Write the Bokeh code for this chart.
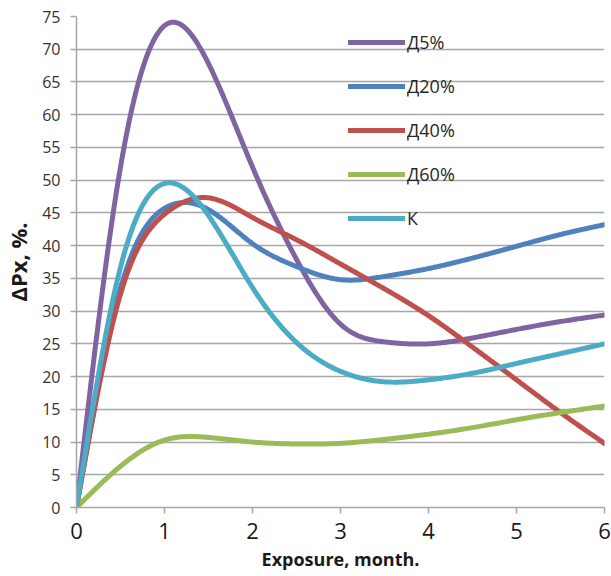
import numpy as np
from bokeh.plotting import figure
from bokeh.models import Legend, LegendItem, FixedTicker, Range1d
from bokeh.embed import file_html
from bokeh.resources import INLINE

# ---- data (every half month) ----
months = [0, 0.5, 1, 1.5, 2, 2.5, 3, 3.5, 4, 4.5, 5, 5.5, 6]
d5 = [0, 52.0, 73.6, 67.8, 52.0, 37.9, 28.0, 25.3, 25.0, 25.9, 27.2, 28.4, 29.4]
d20 = [0, 33.5, 45.7, 45.5, 40.3, 36.8, 34.8, 35.3, 36.5, 38.1, 39.9, 41.7, 43.2]
d40 = [0, 32.6, 44.8, 47.3, 44.3, 40.9, 37.2, 33.4, 29.3, 24.5, 19.5, 14.5, 9.8]
d60 = [0, 6.3, 10.3, 10.7, 10.0, 9.7, 9.8, 10.4, 11.2, 12.2, 13.4, 14.5, 15.5]
k = [0, 36.7, 49.5, 44.6, 33.6, 25.2, 20.8, 19.2, 19.5, 20.5, 22.0, 23.5, 25.0]
series_names = ["Д5%", "Д20%", "Д40%", "Д60%", "К"]
colors = ["#8064A2", "#4F81BD", "#C0504D", "#9BBB59", "#4BACC6"]
y_ticks = list(range(0, 80, 5))
x_ticks = [0, 1, 2, 3, 4, 5, 6]


def smooth(xs, ys, n=30):
    """Smoothed line through the points (natural cubic spline)."""
    xs = np.asarray(xs, float)
    ys = np.asarray(ys, float)
    m = len(xs)
    h = np.diff(xs)
    A = np.zeros((m, m))
    b = np.zeros(m)
    A[0, 0] = A[-1, -1] = 1.0
    for i in range(1, m - 1):
        A[i, i - 1] = h[i - 1]
        A[i, i] = 2 * (h[i - 1] + h[i])
        A[i, i + 1] = h[i]
        b[i] = 6 * ((ys[i + 1] - ys[i]) / h[i] - (ys[i] - ys[i - 1]) / h[i - 1])
    M = np.linalg.solve(A, b)
    px, py = [], []
    for i in range(m - 1):
        hi = h[i]
        ts = np.linspace(xs[i], xs[i + 1], n + 1)
        if i < m - 2:
            ts = ts[:-1]
        a = xs[i + 1] - ts
        c = ts - xs[i]
        s = (M[i] * a**3 / (6 * hi) + M[i + 1] * c**3 / (6 * hi)
             + (ys[i] / hi - M[i] * hi / 6) * a + (ys[i + 1] / hi - M[i + 1] * hi / 6) * c)
        px.extend(ts.tolist())
        py.extend(s.tolist())
    return px, py


p = figure(width=611, height=576, output_backend="svg", toolbar_location=None,
           x_range=Range1d(0, 6), y_range=Range1d(0, 75),
           min_border_left=76, min_border_right=7, min_border_top=16, min_border_bottom=69)
p.outline_line_color = None
p.background_fill_color = "white"
p.border_fill_color = "white"

FONT = "Open Sans"
GRID = "#a6a6a6"

p.xgrid.grid_line_color = None
p.ygrid.grid_line_color = GRID
p.ygrid.grid_line_width = 1.5

p.xaxis.ticker = FixedTicker(ticks=x_ticks)
p.yaxis.ticker = FixedTicker(ticks=y_ticks)
for ax in (p.xaxis[0], p.yaxis[0]):
    ax.axis_line_color = GRID
    ax.axis_line_width = 1.5
    ax.major_tick_line_color = GRID
    ax.major_tick_line_width = 1.5
    ax.major_tick_in = 0
    ax.major_tick_out = 6
    ax.minor_tick_line_color = None
    ax.major_label_text_font = FONT
    ax.axis_label_text_font = FONT
    ax.axis_label_text_font_style = "bold"
    ax.axis_label_text_color = "#1a1a1a"

p.xaxis.major_label_text_font_size = "22px"
p.xaxis.major_label_text_color = "#1a1a1a"
p.xaxis.major_label_standoff = 9
p.xaxis.axis_label = "Exposure, month."
p.xaxis.axis_label_text_font_size = "18px"
p.xaxis.axis_label_standoff = 5

p.yaxis.major_label_text_font_size = "16px"
p.yaxis.major_label_text_color = "#333333"
p.yaxis.major_label_standoff = 10
p.yaxis.axis_label = "ΔPx, %."
p.yaxis.axis_label_text_font_size = "22px"
p.yaxis.axis_label_standoff = 6

items = []
for name, ys, c in zip(series_names, [d5, d20, d40, d60, k], colors):
    sx, sy = smooth(months, ys)
    r = p.line(sx, sy, line_color=c, line_width=5, line_cap="round", line_join="round")
    items.append(LegendItem(label=name, renderers=[r]))

legend = Legend(items=items, location=(272, 277))
legend.background_fill_alpha = 0
legend.border_line_color = None
legend.padding = 0
legend.margin = 0
legend.glyph_width = 57
legend.glyph_height = 24
legend.label_height = 24
legend.spacing = 20
legend.label_standoff = 2
legend.label_text_font = FONT
legend.label_text_font_size = "18px"
legend.label_text_color = "#262626"
p.add_layout(legend)

open("out.html", "w").write(file_html(p, INLINE))
